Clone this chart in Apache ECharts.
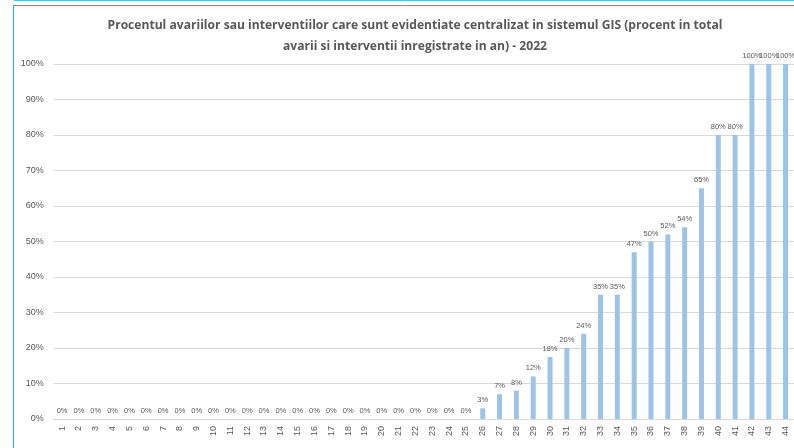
<!DOCTYPE html>
<html><head><meta charset="utf-8">
<script src="https://cdn.jsdelivr.net/npm/echarts@6/dist/echarts.min.js"></script>
<style>html,body{margin:0;padding:0;background:#fff}#c{width:794px;height:448px}</style>
</head><body><div id="c"></div>
<script>
const categories = ['1','2','3','4','5','6','7','8','9','10','11','12','13','14','15','16','17','18','19','20','21','22','23','24','25','26','27','28','29','30','31','32','33','34','35','36','37','38','39','40','41','42','43','44'];
const values = [0,0,0,0,0,0,0,0,0,0,0,0,0,0,0,0,0,0,0,0,0,0,0,0,0,3,7,8,12,17.5,20,24,35,35,47,50,52,54,65,80,80,100,100,100];
const yTicks = [0,10,20,30,40,50,60,70,80,90,100];
const titleText = 'Procentul avariilor sau interventiilor care sunt evidentiate centralizat in sistemul GIS (procent in total\navarii si interventii inregistrate in an) - 2022';

const chart = echarts.init(document.getElementById('c'));
chart.setOption({
  animation: false,
  backgroundColor: '#fff',
  title: {
    text: titleText, left: 410, top: 10, textAlign: 'center',
    textStyle: {fontFamily: 'Open Sans', fontSize: 12.1, fontWeight: 'bold', color: '#595959', lineHeight: 21}
  },
  graphic: [
    {type: 'line', shape: {x1: 14, y1: 0.5, x2: 794, y2: 0.5}, style: {stroke: '#4cc3ef', lineWidth: 1}},
    {type: 'line', shape: {x1: 13, y1: 5.5, x2: 794, y2: 5.5}, style: {stroke: '#2fa8de', lineWidth: 1}},
    {type: 'line', shape: {x1: 13.5, y1: 5, x2: 13.5, y2: 448}, style: {stroke: '#2fa8de', lineWidth: 1}}
  ],
  grid: {left: 53.7, width: 743.6, top: 64, bottom: 29, containLabel: false},
  xAxis: {
    type: 'category', data: categories,
    axisLine: {lineStyle: {color: '#d9d9d9'}},
    axisTick: {show: false},
    axisLabel: {rotate: 90, interval: 0, fontSize: 9, color: '#595959', fontFamily: 'Liberation Sans', margin: 7}
  },
  yAxis: {
    type: 'value', min: yTicks[0], max: yTicks[yTicks.length-1], interval: 10,
    axisLine: {show: false}, axisTick: {show: false},
    splitLine: {lineStyle: {color: '#d9d9d9'}},
    axisLabel: {formatter: v => v + '%', fontSize: 9, color: '#595959', fontFamily: 'Liberation Sans', margin: 10}
  },
  series: [{
    type: 'bar', data: values, barWidth: 5,
    itemStyle: {color: '#9dc3e6'},
    label: {show: true, position: 'top', distance: 4, formatter: p => Math.round(p.value) + '%',
      fontSize: 7.5, color: '#595959', fontFamily: 'Liberation Sans'}
  }]
});
</script></body></html>
